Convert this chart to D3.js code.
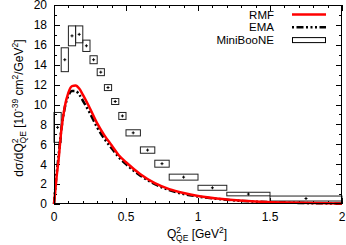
<!DOCTYPE html>
<html>
<head>
<meta charset="utf-8">
<script src="https://cdn.jsdelivr.net/npm/d3@7"></script>
<style>
  body { margin: 0; background: #fff; }
  svg { display: block; font-family: "Liberation Sans", Arial, sans-serif; }
</style>
</head>
<body>
<svg id="chart" width="346" height="245"></svg>
<script>
// theory curves, Q2 in GeV^2, cross section in 10^-39 cm^2/GeV^2
let q2_grid = [0, 0.01, 0.02, 0.03, 0.05, 0.075, 0.1, 0.125, 0.15, 0.175, 0.2,
  0.25, 0.3, 0.35, 0.4, 0.45, 0.5, 0.6, 0.7, 0.8, 0.9, 1.0, 1.2, 1.4, 1.6, 1.8, 2.0];
let rmf_values = [0, 1.5, 3.0, 4.2, 7.3, 9.8, 11.2, 11.85, 11.9, 11.6, 11.0,
  9.6, 8.1, 6.9, 5.9, 4.9, 4.2, 3.0, 2.1, 1.5, 1.1, 0.8, 0.45, 0.25, 0.15, 0.09, 0.05];
let ema_values = [0, 1.8, 3.3, 4.6, 7.4, 9.7, 10.9, 11.35, 11.35, 11.0, 10.4,
  9.1, 7.7, 6.55, 5.6, 4.7, 4.0, 2.85, 2.0, 1.4, 1.0, 0.75, 0.42, 0.24, 0.14, 0.08, 0.05];

// MiniBooNE bins
let bin_lo = [0, 0.05, 0.1, 0.15, 0.2, 0.25, 0.3, 0.35, 0.4, 0.45, 0.5, 0.6, 0.7, 0.8, 1.0, 1.2, 1.5];
let bin_hi = [0.05, 0.1, 0.15, 0.2, 0.25, 0.3, 0.35, 0.4, 0.45, 0.5, 0.6, 0.7, 0.8, 1.0, 1.2, 1.5, 2.0];
let mb_values = [7.7, 14.5, 16.9, 17.05, 15.9, 14.5, 13.25, 11.7, 10.3, 8.85, 7.15, 5.42, 4.05, 2.7, 1.63, 1.0, 0.55];
let mb_errors = [1.5, 1.2, 1.0, 0.85, 0.57, 0.4, 0.35, 0.3, 0.3, 0.35, 0.31, 0.32, 0.35, 0.3, 0.25, 0.18, 0.25];

let x_ticks = [0, 0.5, 1, 1.5, 2];
let x_tick_labels = ["0", "0.5", "1", "1.5", "2"];
let y_ticks = [0, 2, 4, 6, 8, 10, 12, 14, 16, 18, 20];

let svg = d3.select("#chart");
let plot_left = 54, plot_right = 342, plot_top = 5, plot_bottom = 204;

let x = d3.scaleLinear().domain([0, 2]).range([plot_left, plot_right]);
let y = d3.scaleLinear().domain([0, 20]).range([plot_bottom, plot_top]);

// minor ticks
let x_minor = d3.range(0, 2.0001, 0.1);
let y_minor = d3.range(0, 20.0001, 1);

let ticks = svg.append("g").attr("stroke", "black").attr("stroke-width", 1);

x_minor.forEach(function(d) {
  let len = x_ticks.indexOf(Math.round(d * 10) / 10) >= 0 ? 6 : 3;
  let px = Math.round(x(d)) + 0.5;
  ticks.append("line").attr("x1", px).attr("x2", px).attr("y1", plot_bottom).attr("y2", plot_bottom - len);
  ticks.append("line").attr("x1", px).attr("x2", px).attr("y1", plot_top).attr("y2", plot_top + len);
});
y_minor.forEach(function(d) {
  let len = Math.round(d) % 2 === 0 ? 6 : 3;
  let py = Math.round(y(d)) + 0.5;
  ticks.append("line").attr("x1", plot_left).attr("x2", plot_left + len).attr("y1", py).attr("y2", py);
  ticks.append("line").attr("x1", plot_right).attr("x2", plot_right - len).attr("y1", py).attr("y2", py);
});

// tick labels
svg.append("g")
  .selectAll("text")
  .data(x_ticks)
  .enter()
  .append("text")
  .attr("x", function(d) { return x(d); })
  .attr("y", 221)
  .attr("text-anchor", "middle")
  .attr("font-size", 12)
  .text(function(d, i) { return x_tick_labels[i]; });

svg.append("g")
  .selectAll("text")
  .data(y_ticks)
  .enter()
  .append("text")
  .attr("x", 47)
  .attr("y", function(d) { return y(d) + 4.3; })
  .attr("text-anchor", "end")
  .attr("font-size", 12)
  .text(function(d) { return d; });

// MiniBooNE boxes
let boxes = svg.append("g");
bin_lo.forEach(function(lo, i) {
  let x0 = x(lo), x1 = x(bin_hi[i]);
  let y0 = y(mb_values[i] + mb_errors[i]), y1 = y(mb_values[i] - mb_errors[i]);
  boxes.append("rect")
    .attr("x", x0).attr("y", y0)
    .attr("width", x1 - x0).attr("height", y1 - y0)
    .attr("fill", "none").attr("stroke", "#222").attr("stroke-width", 1);
  let cx = (x0 + x1) / 2, cy = y(mb_values[i]);
  boxes.append("path")
    .attr("d", "M" + (cx - 1.5) + "," + cy + "h3M" + cx + "," + (cy - 1.5) + "v3")
    .attr("stroke", "black").attr("stroke-width", 1);
});

// theory curves
let line = d3.line()
  .x(function(d) { return x(d[0]); })
  .y(function(d) { return y(d[1]); })
  .curve(d3.curveMonotoneX);

svg.append("path")
  .datum(d3.zip(q2_grid, ema_values))
  .attr("d", line)
  .attr("fill", "none")
  .attr("stroke", "black")
  .attr("stroke-width", 2.5)
  .attr("stroke-dasharray", "7,2.5,2,2.5,2,2.5");

svg.append("path")
  .datum(d3.zip(q2_grid, rmf_values))
  .attr("d", line)
  .attr("fill", "none")
  .attr("stroke", "#ff0000")
  .attr("stroke-width", 2.5);

// frame
svg.append("rect")
  .attr("x", plot_left + 0.5).attr("y", plot_top + 0.5)
  .attr("width", plot_right - plot_left - 1).attr("height", plot_bottom - plot_top - 1)
  .attr("fill", "none").attr("stroke", "black").attr("stroke-width", 1);

// legend
let legend_names = ["RMF", "EMA", "MiniBooNE"];
let legend = svg.append("g").attr("font-size", 11.5);
legend_names.forEach(function(name, i) {
  let ly = 14.5 + i * 12.8;
  legend.append("text")
    .attr("x", 274).attr("y", ly + 4)
    .attr("text-anchor", "end")
    .text(name);
  if (i === 0) {
    legend.append("line").attr("x1", 292).attr("x2", 326).attr("y1", ly).attr("y2", ly)
      .attr("stroke", "#ff0000").attr("stroke-width", 2.5);
  } else if (i === 1) {
    legend.append("line").attr("x1", 292).attr("x2", 326).attr("y1", ly).attr("y2", ly)
      .attr("stroke", "black").attr("stroke-width", 2.5)
      .attr("stroke-dasharray", "2,2.5,7,2.5,2,2.5,2,2.5");
  } else {
    legend.append("rect").attr("x", 292.5).attr("y", ly - 2.5).attr("width", 33).attr("height", 5)
      .attr("fill", "none").attr("stroke", "black").attr("stroke-width", 1);
  }
});

// axis titles
let xt = svg.append("text").attr("x", 197).attr("y", 238).attr("text-anchor", "middle").attr("font-size", 12);
xt.append("tspan").text("Q");
xt.append("tspan").attr("dy", -5).attr("font-size", 8.5).text("2");
xt.append("tspan").attr("dx", -5).attr("dy", 8).attr("font-size", 8.5).text("QE");
xt.append("tspan").attr("dy", -3).text(" [GeV");
xt.append("tspan").attr("dy", -5).attr("font-size", 8.5).text("2");
xt.append("tspan").attr("dy", 5).text("]");

let yt = svg.append("text")
  .attr("transform", "translate(23,108) rotate(-90)")
  .attr("text-anchor", "middle")
  .attr("font-size", 12);
yt.append("tspan").text("d\u03c3/dQ");
yt.append("tspan").attr("dy", -5).attr("font-size", 8.5).text("2");
yt.append("tspan").attr("dx", -5).attr("dy", 8).attr("font-size", 8.5).text("QE");
yt.append("tspan").attr("dy", -3).text(" [10");
yt.append("tspan").attr("dy", -5).attr("font-size", 8.5).text("-39");
yt.append("tspan").attr("dy", 5).text(" cm");
yt.append("tspan").attr("dy", -5).attr("font-size", 8.5).text("2");
yt.append("tspan").attr("dy", 5).text("/GeV");
yt.append("tspan").attr("dy", -5).attr("font-size", 8.5).text("2");
yt.append("tspan").attr("dy", 5).text("]");
</script>
</body>
</html>
